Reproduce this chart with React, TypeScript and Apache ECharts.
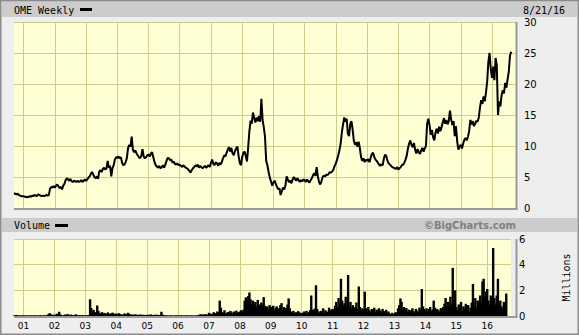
import React, { useEffect, useRef } from 'react';
import * as echarts from 'echarts';

// ---- Data (biweekly samples) ----
const years = [2000, 2001, 2002, 2003, 2004, 2005, 2006, 2007, 2008, 2009, 2010, 2011, 2012, 2013, 2014, 2015, 2016];

const price2000 = [2.4, 2.3, 2.2, 2.3, 2.1, 2.0, 1.9, 1.9];
const price2001 = [1.9, 1.8, 1.8, 1.7, 1.8, 1.9, 1.8, 2.0, 1.9, 2.1, 2.0, 1.9, 2.2, 2.1, 2.0, 1.9, 2.0, 1.9, 2.0, 2.1, 2.0, 2.1, 3.1, 3.4, 3.3, 3.5];
const price2002 = [3.3, 3.6, 3.8, 3.5, 3.2, 3.4, 3.0, 3.6, 3.9, 4.5, 4.8, 4.6, 4.4, 4.7, 4.3, 4.2, 4.4, 4.3, 4.2, 4.4, 4.2, 4.3, 4.5, 4.2, 4.4, 4.6];
const price2003 = [4.4, 4.6, 4.9, 5.1, 5.5, 5.8, 5.4, 5.0, 4.8, 5.1, 4.7, 5.9, 6.1, 5.8, 6.3, 6.5, 6.2, 6.4, 7.6, 6.5, 6.8, 5.1, 6.4, 6.9, 7.8, 8.2];
const price2004 = [8.1, 8.3, 8.0, 8.2, 7.3, 6.9, 7.0, 7.4, 8.1, 9.7, 10.2, 9.9, 11.5, 9.4, 9.0, 9.3, 8.8, 8.5, 8.2, 8.0, 8.4, 9.5, 8.3, 8.0, 8.2, 8.5];
const price2005 = [8.6, 8.3, 8.8, 9.0, 8.2, 7.4, 6.9, 6.7, 6.5, 6.8, 6.4, 6.6, 6.9, 6.5, 7.0, 7.6, 8.1, 8.0, 7.7, 7.8, 7.3, 7.5, 7.1, 7.0, 7.2, 6.9];
const price2006 = [7.0, 6.8, 6.6, 6.9, 6.7, 6.5, 6.4, 6.2, 6.0, 5.7, 6.1, 6.4, 6.6, 6.9, 6.7, 7.0, 6.5, 6.8, 6.6, 6.4, 6.6, 6.8, 6.5, 6.7, 6.9, 6.6];
const price2007 = [7.3, 7.8, 7.1, 6.9, 7.4, 7.2, 6.8, 7.3, 7.0, 7.4, 8.0, 8.5, 8.3, 8.9, 9.4, 9.8, 9.1, 9.7, 8.8, 8.5, 9.2, 9.6, 9.9, 8.4, 7.3, 6.9];
const price2008 = [8.2, 8.9, 9.1, 8.4, 7.5, 9.8, 12.4, 14.1, 13.6, 15.4, 14.5, 13.8, 14.6, 14.0, 14.8, 13.9, 17.6, 14.2, 13.0, 11.5, 7.6, 6.9, 5.8, 4.9, 4.3, 3.6];
const price2009 = [4.1, 4.4, 3.9, 3.4, 3.0, 3.2, 2.1, 2.7, 3.3, 3.0, 3.6, 5.1, 4.6, 4.2, 4.4, 4.0, 4.6, 5.0, 4.7, 4.4, 4.8, 4.5, 4.2, 4.5, 4.3, 4.6];
const price2010 = [4.5, 4.2, 4.6, 4.3, 4.1, 4.5, 4.8, 5.3, 5.6, 5.2, 6.6, 5.1, 4.2, 3.8, 4.3, 5.0, 5.2, 5.1, 5.4, 5.3, 5.5, 5.8, 5.7, 5.9, 6.2, 6.8];
const price2011 = [7.2, 7.8, 8.5, 9.3, 10.4, 12.2, 13.5, 14.6, 13.9, 14.4, 12.0, 11.6, 13.6, 14.0, 12.6, 10.8, 10.2, 10.6, 9.9, 10.7, 9.6, 8.2, 7.6, 8.0, 7.4, 7.8];
const price2012 = [7.6, 7.9, 7.4, 8.1, 8.7, 8.9, 8.2, 7.8, 7.6, 7.3, 7.0, 6.8, 7.1, 6.9, 8.0, 8.6, 8.4, 7.6, 7.2, 7.0, 6.8, 6.6, 6.5, 6.4, 6.3, 6.6];
const price2013 = [6.2, 6.4, 6.6, 6.9, 7.0, 7.3, 7.8, 8.4, 9.6, 10.4, 10.9, 10.2, 9.8, 10.5, 9.4, 8.8, 9.5, 9.0, 8.7, 9.3, 9.7, 9.1, 9.6, 10.0, 13.6, 14.4];
const price2014 = [13.4, 11.8, 12.6, 11.4, 10.9, 12.2, 12.8, 12.0, 13.1, 12.4, 13.0, 13.8, 14.5, 13.6, 14.2, 13.5, 14.0, 15.7, 14.3, 13.4, 14.0, 11.6, 13.2, 10.8, 9.4, 9.9];
const price2015 = [10.2, 9.6, 10.4, 11.0, 11.3, 10.9, 11.5, 12.4, 14.2, 13.5, 14.0, 13.2, 13.6, 14.1, 13.9, 14.6, 16.2, 17.4, 16.8, 18.0, 17.2, 18.6, 20.4, 23.6, 25.0, 22.4];
const price2016 = [21.0, 22.8, 20.6, 24.2, 23.0, 15.0, 17.2, 16.4, 18.2, 19.0, 18.5, 20.2, 19.4, 20.8, 22.0, 24.6, 25.2];

// Volume, millions of shares
const vol2000 = [0.04, 0.05, 0.08, 0.06, 0.04, 0.03, 0.04, 0.05];
const vol2001 = [0.04, 0.03, 0.05, 0.04, 0.03, 0.04, 0.05, 0.03, 0.04, 0.03, 0.05, 0.04, 0.03, 0.04, 0.06, 0.04, 0.03, 0.05, 0.04, 0.05, 0.06, 0.14, 0.22, 0.12, 0.10, 0.08];
const vol2002 = [0.10, 0.08, 0.18, 0.09, 0.33, 0.12, 0.07, 0.05, 0.06, 0.12, 0.08, 0.15, 0.09, 0.06, 0.11, 0.07, 0.05, 0.08, 0.13, 0.06, 0.05, 0.07, 0.04, 0.06, 0.05, 0.04];
const vol2003 = [0.05, 0.04, 0.06, 0.08, 1.30, 0.62, 0.35, 0.48, 0.26, 0.30, 0.82, 0.40, 0.22, 0.18, 0.30, 0.16, 0.24, 0.20, 0.14, 0.28, 0.18, 0.15, 0.22, 0.26, 0.13, 0.17];
const vol2004 = [0.18, 0.12, 0.22, 0.15, 0.10, 0.12, 0.08, 0.20, 0.16, 0.10, 0.25, 0.14, 0.12, 0.09, 0.11, 0.08, 0.13, 0.10, 0.07, 0.09, 0.12, 0.08, 0.10, 0.07, 0.09, 0.06];
const vol2005 = [0.08, 0.10, 0.07, 0.12, 0.09, 0.06, 0.08, 0.11, 0.07, 0.09, 0.06, 0.08, 0.33, 0.10, 0.06, 0.05, 0.04, 0.05, 0.03, 0.04, 0.05, 0.03, 0.04, 0.03, 0.05, 0.04];
const vol2006 = [0.04, 0.03, 0.05, 0.04, 0.03, 0.04, 0.03, 0.05, 0.04, 0.03, 0.04, 0.05, 0.03, 0.04, 0.03, 0.04, 0.05, 0.04, 0.10, 0.14, 0.08, 0.12, 0.10, 0.15, 0.09, 0.11];
const vol2007 = [0.25, 0.12, 0.18, 0.10, 0.30, 0.22, 0.15, 0.35, 0.28, 1.20, 0.65, 0.30, 0.22, 0.45, 0.18, 0.25, 0.32, 0.20, 0.40, 0.28, 0.16, 0.35, 0.22, 0.42, 0.25, 0.30];
const vol2008 = [0.35, 0.45, 0.30, 0.50, 1.20, 1.45, 1.10, 1.55, 1.83, 1.30, 0.95, 1.20, 0.80, 1.10, 0.75, 1.25, 0.90, 0.70, 1.05, 0.85, 1.47, 0.80, 0.60, 0.75, 0.50, 0.85];
const vol2009 = [0.70, 0.55, 0.80, 0.45, 0.65, 0.75, 0.50, 0.60, 0.85, 1.00, 0.55, 0.70, 0.48, 0.62, 0.90, 1.37, 0.60, 0.35, 0.25, 0.40, 0.18, 0.30, 0.22, 0.38, 0.28, 0.20];
const vol2010 = [0.25, 0.18, 0.35, 0.22, 0.40, 0.15, 0.30, 0.45, 1.60, 0.50, 0.42, 0.58, 2.40, 0.55, 0.35, 0.25, 0.40, 0.30, 0.60, 0.22, 0.45, 0.35, 0.28, 0.65, 0.40, 0.50];
const vol2011 = [0.55, 0.45, 0.80, 1.10, 0.70, 1.40, 0.95, 2.90, 1.20, 0.85, 1.00, 1.50, 0.90, 3.20, 0.75, 1.10, 0.60, 0.85, 0.45, 0.70, 1.05, 0.55, 2.30, 0.70, 0.45, 0.60];
const vol2012 = [0.50, 1.90, 0.60, 0.35, 0.70, 0.45, 0.30, 0.55, 0.40, 0.65, 0.28, 0.50, 0.35, 0.60, 0.42, 0.25, 0.55, 0.38, 0.30, 0.48, 0.22, 0.35, 0.18, 0.12, 0.25, 0.15];
const vol2013 = [0.20, 0.30, 0.15, 0.60, 0.85, 1.37, 1.10, 0.55, 0.70, 0.40, 0.62, 0.35, 0.50, 0.28, 0.45, 0.60, 0.38, 0.25, 0.55, 0.42, 0.30, 0.65, 0.48, 2.10, 0.75, 0.55];
const vol2014 = [0.45, 0.60, 0.35, 0.55, 0.70, 0.40, 0.50, 1.20, 0.65, 0.38, 0.55, 0.45, 0.30, 0.62, 0.48, 0.70, 0.95, 1.40, 0.80, 1.10, 0.75, 1.50, 0.90, 3.75, 1.00, 2.00];
const vol2015 = [0.70, 0.45, 0.90, 0.55, 1.10, 0.40, 0.75, 0.60, 0.95, 0.50, 0.85, 0.35, 0.65, 1.05, 2.50, 0.80, 1.40, 0.70, 1.20, 0.90, 1.60, 1.10, 2.70, 2.90, 1.50, 1.90];
const vol2016 = [2.10, 1.20, 0.90, 1.60, 1.10, 5.30, 1.40, 0.90, 1.60, 2.90, 0.80, 1.20, 0.75, 0.60, 1.10, 0.55, 1.75];

const priceTicks = [0, 5, 10, 15, 20, 25, 30];
const volumeTicks = [0, 2, 4, 6];

const titleText = 'OME Weekly';
const dateText = '8/21/16';
const volumeText = 'Volume';
const creditText = '\u00A9BigCharts.com';
const volumeUnit = 'Millions';

// ---- Build series / categories ----
const priceByYear = [price2000, price2001, price2002, price2003, price2004, price2005, price2006, price2007, price2008, price2009, price2010, price2011, price2012, price2013, price2014, price2015, price2016];
const volByYear = [vol2000, vol2001, vol2002, vol2003, vol2004, vol2005, vol2006, vol2007, vol2008, vol2009, vol2010, vol2011, vol2012, vol2013, vol2014, vol2015, vol2016];

const pad2 = (n: number) => String(n).padStart(2, '0');
const fmtDate = (t: number) => {
  const d = new Date(t);
  return `${d.getUTCFullYear()}-${pad2(d.getUTCMonth() + 1)}-${pad2(d.getUTCDate())}`;
};
const DAY = 86400000;
const categories: string[] = [];
const yearStart = new Set<number>();
let lastT = 0;
years.forEach((y, k) => {
  if (k > 0) yearStart.add(categories.length);
  priceByYear[k].forEach((_, i) => {
    const t = y === 2000 ? Date.UTC(2000, 8, 15 + 14 * i) : Date.UTC(y, 0, 7 + 14 * i);
    lastT = t;
    categories.push(fmtDate(t));
  });
});
// axis continues past the last sample (to mid-October 2016)
for (let j = 1; j <= 4; j++) categories.push(fmtDate(lastT + j * 14 * DAY));

const prices = priceByYear.flat();
const volumes = volByYear.flat();

const PLOT_BG = '#ffffd4';
const GRID = '#cdcd8c';
const HEADER = '#cccccc';
const MONO = 'DejaVu Sans Mono';
const SANS = 'DejaVu Sans';

const isYearStart = (i: number) => yearStart.has(i);

const option: any = {
  animation: false,
  backgroundColor: '#eeeeee',
  textStyle: { fontFamily: SANS },
  grid: [
    { left: 14, top: 22, width: 502, height: 186, show: true, backgroundColor: PLOT_BG, borderWidth: 0, containLabel: false },
    { left: 14, top: 239, width: 502, height: 77, show: true, backgroundColor: PLOT_BG, borderWidth: 0, containLabel: false },
  ],
  xAxis: [
    {
      type: 'category', gridIndex: 0, data: categories, boundaryGap: false,
      axisLine: { show: false }, axisTick: { show: false }, axisLabel: { show: false },
      splitLine: { show: true, interval: isYearStart, lineStyle: { color: GRID, width: 1 } },
    },
    {
      type: 'category', gridIndex: 1, data: categories, boundaryGap: false,
      axisLine: { show: false }, axisTick: { show: false },
      axisLabel: {
        interval: isYearStart, formatter: (v: string) => v.slice(2, 4),
        fontSize: 9, margin: 5, color: '#000', fontFamily: SANS,
      },
      splitLine: { show: true, interval: isYearStart, lineStyle: { color: GRID, width: 1 } },
    },
  ],
  yAxis: [
    {
      type: 'value', gridIndex: 0, position: 'right',
      min: priceTicks[0], max: priceTicks[priceTicks.length - 1], interval: priceTicks[1] - priceTicks[0],
      axisLine: { show: false }, axisTick: { show: false },
      axisLabel: { margin: 8, fontSize: 10, color: '#000', fontFamily: SANS },
      splitLine: { show: true, lineStyle: { color: GRID, width: 1 } },
    },
    {
      type: 'value', gridIndex: 1, position: 'right',
      min: volumeTicks[0], max: volumeTicks[volumeTicks.length - 1], interval: volumeTicks[1] - volumeTicks[0],
      name: volumeUnit, nameLocation: 'middle', nameRotate: 90, nameGap: 50,
      nameTextStyle: { fontFamily: MONO, fontSize: 10, color: '#000' },
      axisLine: { show: false }, axisTick: { show: false },
      axisLabel: { margin: 8, fontSize: 10, color: '#000', fontFamily: SANS },
      splitLine: { show: true, lineStyle: { color: GRID, width: 1 } },
    },
  ],
  series: [
    {
      type: 'line', xAxisIndex: 0, yAxisIndex: 0, data: prices,
      symbol: 'none', lineStyle: { color: '#000', width: 2 }, z: 5,
    },
    {
      type: 'bar', xAxisIndex: 1, yAxisIndex: 1, data: volumes,
      barWidth: 2.4, itemStyle: { color: '#000' }, z: 5,
    },
  ],
  graphic: [
    { type: 'rect', z: 1, shape: { x: 2, y: 2, width: 575, height: 15 }, style: { fill: HEADER } },
    { type: 'rect', z: 1, shape: { x: 2, y: 218, width: 575, height: 14 }, style: { fill: HEADER } },
    { type: 'text', z: 10, x: 14, y: 10, style: { text: titleText, font: `10px "${MONO}"`, fill: '#000', verticalAlign: 'middle' } },
    { type: 'rect', z: 10, shape: { x: 80, y: 8, width: 12, height: 3 }, style: { fill: '#000' } },
    { type: 'text', z: 10, x: 523, y: 10, style: { text: dateText, font: `10px "${MONO}"`, fill: '#000', verticalAlign: 'middle' } },
    { type: 'text', z: 10, x: 14, y: 225.5, style: { text: volumeText, font: `10px "${MONO}"`, fill: '#000', verticalAlign: 'middle' } },
    { type: 'rect', z: 10, shape: { x: 55, y: 224, width: 13, height: 3 }, style: { fill: '#000' } },
    { type: 'text', z: 10, x: 516, y: 225.5, style: { text: creditText, font: `bold 10px "${SANS}"`, fill: '#808080', align: 'right', verticalAlign: 'middle' } },
    // plot shadows (right / bottom)
    { type: 'line', z: 20, shape: { x1: 516.5, y1: 22, x2: 516.5, y2: 209 }, style: { stroke: '#999999', lineWidth: 2 } },
    { type: 'line', z: 20, shape: { x1: 14, y1: 209, x2: 517.5, y2: 209 }, style: { stroke: '#999999', lineWidth: 2 } },
    { type: 'line', z: 20, shape: { x1: 516.5, y1: 239, x2: 516.5, y2: 317 }, style: { stroke: '#999999', lineWidth: 2 } },
    { type: 'line', z: 20, shape: { x1: 14, y1: 317, x2: 517.5, y2: 317 }, style: { stroke: '#999999', lineWidth: 2 } },
    // outer frame
    { type: 'rect', z: 30, shape: { x: 0.75, y: 0.75, width: 577.5, height: 333.5 }, style: { fill: 'none', stroke: '#8c8c8c', lineWidth: 1.5 } },
  ],
};

export default function App() {
  const ref = useRef<HTMLDivElement>(null);
  useEffect(() => {
    if (!ref.current) return;
    const chart = echarts.init(ref.current, null, { renderer: 'svg' });
    chart.setOption(option);
    return () => chart.dispose();
  }, []);
  return <div ref={ref} style={{ position: 'fixed', left: 0, top: 0, width: 579, height: 335 }} />;
}
